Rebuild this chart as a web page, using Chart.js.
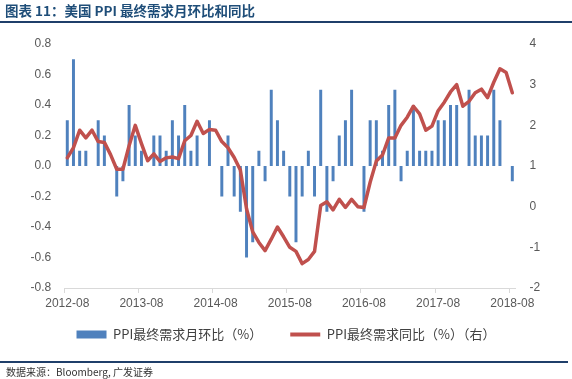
<!DOCTYPE html>
<html>
<head>
<meta charset="utf-8">
<script src="https://cdn.jsdelivr.net/npm/chart.js@4.4.1/dist/chart.umd.min.js"></script>
<style>
  html, body { margin: 0; padding: 0; background: #fff; }
  #wrap { position: relative; width: 572px; height: 379px; overflow: hidden; background: #fff; }
  #c { position: absolute; left: 0; top: 0; }
  #title { position: absolute; left: 5px; top: 0px; font: bold 13.5px "Noto Sans CJK SC", sans-serif; color: #1f4e79; white-space: nowrap; }
  #topline { position: absolute; left: 0; top: 21px; width: 572px; height: 2px; background: #1f3f6a; }
  #botline { position: absolute; left: 0; top: 361px; width: 568px; height: 2px; background: #1f3f6a; }
  #source { position: absolute; left: 6px; top: 364px; font: 10px "Noto Sans CJK SC", sans-serif; color: #333; white-space: nowrap; }
</style>
</head>
<body>
<div id="wrap">
  <canvas id="c" width="572" height="379"></canvas>
  <div id="title">图表 11：美国 PPI 最终需求月环比和同比</div>
  <div id="topline"></div>
  <div id="botline"></div>
  <div id="source">数据来源：Bloomberg, 广发证券</div>
</div>
<script>
const categories = [
  '2012-08','2012-09','2012-10','2012-11','2012-12',
  '2013-01','2013-02','2013-03','2013-04','2013-05','2013-06','2013-07','2013-08','2013-09','2013-10','2013-11','2013-12',
  '2014-01','2014-02','2014-03','2014-04','2014-05','2014-06','2014-07','2014-08','2014-09','2014-10','2014-11','2014-12',
  '2015-01','2015-02','2015-03','2015-04','2015-05','2015-06','2015-07','2015-08','2015-09','2015-10','2015-11','2015-12',
  '2016-01','2016-02','2016-03','2016-04','2016-05','2016-06','2016-07','2016-08','2016-09','2016-10','2016-11','2016-12',
  '2017-01','2017-02','2017-03','2017-04','2017-05','2017-06','2017-07','2017-08','2017-09','2017-10','2017-11','2017-12',
  '2018-01','2018-02','2018-03','2018-04','2018-05','2018-06','2018-07','2018-08'
];
// 月环比 (%), left axis
const momValues = [
  0.3, 0.7, 0.1, 0.1, 0.0,
  0.3, 0.2, 0.0, -0.2, -0.1, 0.4, 0.2, 0.1, 0.0, 0.2, 0.2, 0.1,
  0.3, 0.2, 0.4, 0.1, 0.2, 0.0, 0.3, 0.0, -0.2, 0.2, -0.2, -0.3,
  -0.6, -0.5, 0.1, -0.1, 0.5, 0.3, 0.1, -0.2, -0.5, -0.2, 0.1, -0.2,
  0.5, -0.3, -0.1, 0.2, 0.3, 0.5, 0.0, -0.3, 0.3, 0.3, 0.1, 0.4,
  0.5, -0.1, 0.1, 0.4, 0.1, 0.1, 0.1, 0.3, 0.3, 0.4, 0.4, 0.0,
  0.5, 0.2, 0.2, 0.2, 0.5, 0.3, 0.0, -0.1
];
// 同比 (%), right axis
const yoyValues = [
  1.2, 1.45, 1.88, 1.69, 1.88,
  1.6, 1.58, 1.28, 0.92, 0.92, 1.5, 2.0, 1.55, 1.13, 1.3, 1.11, 1.2,
  1.22, 1.18, 1.62, 1.75, 2.1, 1.8, 1.9, 1.88, 1.6, 1.45, 1.21, 0.9,
  -0.05, -0.62, -0.88, -1.08, -0.8, -0.5, -0.74, -1.0, -1.1, -1.4, -1.3, -1.1,
  0.03, 0.12, -0.08, 0.18, -0.02, 0.18, 0.0, -0.02, 0.6, 1.12, 1.27, 1.69,
  1.69, 2.0, 2.2, 2.47, 2.28, 1.88, 1.98, 2.36, 2.57, 2.82, 3.0, 2.47,
  2.59, 2.8, 2.89, 2.68, 3.06, 3.39, 3.3, 2.8
];
const leftTicks = [-0.8, 0.8, 0.2];   // min, max, step
const rightTicks = [-2, 4, 1];
const seriesNames = ['PPI最终需求月环比（%）', 'PPI最终需求同比（%）（右）'];
const labelEvery = 12;

const axisGray = '#d9d9d9';
const textGray = '#595959';
const tickFont = { family: '"Liberation Sans", Arial, sans-serif', size: 12 };

// move the legend up a little after layout (keeps wide horizontal spacing)
const legendShift = {
  id: 'legendShift',
  afterLayout(chart) {
    const lg = chart.legend;
    if (lg) { lg.top -= 14; lg.bottom -= 14; }
  }
};

new Chart(document.getElementById('c'), {
  plugins: [legendShift],
  data: {
    labels: categories,
    datasets: [
      {
        type: 'line',
        label: seriesNames[1],
        data: yoyValues,
        yAxisID: 'y1',
        borderColor: '#c0504d',
        backgroundColor: '#c0504d',
        borderWidth: 3.5,
        pointRadius: 0,
        tension: 0,
        borderJoinStyle: 'round',
        borderCapStyle: 'round',
        order: 0
      },
      {
        type: 'bar',
        label: seriesNames[0],
        data: momValues,
        yAxisID: 'y',
        backgroundColor: '#4f81bd',
        borderWidth: 0,
        categoryPercentage: 1.0,
        barPercentage: 0.48,
        order: 1
      }
    ]
  },
  options: {
    responsive: false,
    animation: false,
    devicePixelRatio: 1,
    layout: { padding: { top: 44, left: 0, right: 0, bottom: 14 } },
    plugins: {
      tooltip: { enabled: false },
      legend: {
        position: 'bottom',
        labels: {
          usePointStyle: true,
          pointStyleWidth: 30,
          boxHeight: 8,
          padding: 28,
          color: '#404040',
          font: { family: '"Noto Sans CJK SC", sans-serif', size: 13 },
          generateLabels(chart) {
            const ds = chart.data.datasets;
            return [
              { text: ds[1].label, fillStyle: ds[1].backgroundColor, strokeStyle: ds[1].backgroundColor, lineWidth: 0, pointStyle: 'rect', hidden: false, datasetIndex: 1, fontColor: '#404040' },
              { text: ds[0].label, fillStyle: ds[0].borderColor, strokeStyle: ds[0].borderColor, lineWidth: 4, pointStyle: 'line', hidden: false, datasetIndex: 0, fontColor: '#404040' }
            ];
          }
        }
      }
    },
    scales: {
      x: {
        offset: true,
        grid: {
          offset: true,
          drawOnChartArea: false,
          drawTicks: true,
          tickLength: 5,
          color: (ctx) => (ctx.index % labelEvery === 0 ? axisGray : 'rgba(0,0,0,0)')
        },
        border: { display: true, color: axisGray, width: 1 },
        ticks: {
          autoSkip: false,
          maxRotation: 0,
          minRotation: 0,
          padding: 3,
          color: textGray,
          font: tickFont,
          callback: function (v, i) { return i % labelEvery === 0 ? categories[i] : ''; }
        },
        afterFit(scale) { scale.height = 26; }
      },
      y: {
        position: 'left',
        min: leftTicks[0], max: leftTicks[1],
        grid: { display: false },
        border: { display: false },
        ticks: {
          stepSize: leftTicks[2],
          padding: 5,
          color: textGray,
          font: tickFont,
          callback: (v) => (Math.abs(v) < 1e-9 ? '0.0' : Number(v).toFixed(1))
        },
        afterFit(scale) { scale.width = 64.2; }
      },
      y1: {
        position: 'right',
        min: rightTicks[0], max: rightTicks[1],
        grid: { display: false },
        border: { display: false },
        ticks: {
          stepSize: rightTicks[2],
          padding: 6,
          color: textGray,
          font: tickFont
        },
        afterFit(scale) { scale.width = 56.6; }
      }
    }
  }
});
</script>
</body>
</html>
